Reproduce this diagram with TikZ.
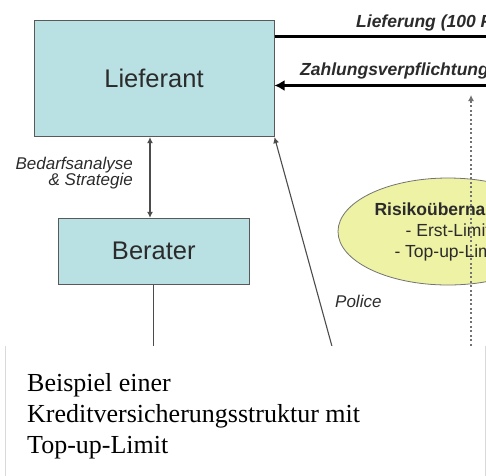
\documentclass[tikz,border=0pt]{standalone}
\usepackage{fontspec}
\setmainfont{Liberation Sans}
\newfontfamily\captionfont{Liberation Serif}
\usepackage{tikz}
\usetikzlibrary{shapes.geometric, arrows.meta}
\definecolor{boxcyan}{HTML}{B9E0E2}
\definecolor{ellyellow}{HTML}{EEF2A4}
\definecolor{inkgray}{HTML}{2B2B2B}
\tikzstyle{party} = [rectangle, draw=black!65, line width=1pt, fill=boxcyan, text=inkgray, inner sep=0pt, font=\fontsize{25.5}{30}\selectfont]
\tikzstyle{risk} = [ellipse, draw=black!55, line width=0.8pt, fill=ellyellow, minimum width=220pt, minimum height=107pt, inner sep=0pt, align=center, text=inkgray, font=\fontsize{17.5}{21}\selectfont]
\tikzstyle{flowlabel} = [inner sep=0pt, text=inkgray, font=\fontsize{17.5}{18}\selectfont\bfseries\itshape]
\tikzstyle{sidelabel} = [inner sep=0pt, text=inkgray, font=\fontsize{17}{15}\selectfont\itshape]
\tikzstyle{flow} = [line width=3pt, draw=black, -{Latex[length=10pt,width=11pt]}]
\tikzstyle{link} = [line width=1.1pt, draw=black!70]
\tikzstyle{arrow} = [link, -{Latex[length=6pt,width=6pt]}]
\tikzstyle{dotarrow} = [line width=1.1pt, draw=black!55, dash pattern=on 2pt off 2.5pt, -{Latex[length=6pt,width=6pt]}]

\begin{document}
\begin{tikzpicture}[x=1pt, y=-1pt]
\useasboundingbox (0,0) rectangle (486,475);
\clip (0,0) rectangle (486,475);
% parties
\node (lieferant) [party, minimum width=240pt, minimum height=116.5pt] at (154,78.4) {Lieferant};
\node (berater) [party, minimum width=191pt, minimum height=66pt] at (153.8,251.3) {Berater};
\node (risiko) [risk] at (448,231.5) {\textbf{Risikoübernahme}\\- Erst-Limit\\- Top-up-Limit};
% free ends
\coordinate (lr) at (492,36);
\coordinate (zr) at (492,85.5);
\coordinate (pbot) at (333,350);
\coordinate (dbot) at (471,350);
\coordinate (dtop) at (471,95);
\coordinate (bbot) at (153.8,350);
% connectors
\draw [link, line width=3pt, draw=black] (lr -| lieferant.east) -- (lr);
\node (lieferung) [flowlabel, anchor=base west] at (356,27) {Lieferung (100 P};
\draw [flow] (zr) -- (zr -| lieferant.east);
\node (zahlung) [flowlabel, anchor=base west] at (300,75) {Zahlungsverpflichtung};
\draw [dotarrow] (dbot) -- (dtop);
\draw [arrow, {Latex[length=6pt,width=6pt]}-{Latex[length=6pt,width=6pt]}] ([xshift=-4pt]lieferant.south) -- ([xshift=-4pt]lieferant.south |- berater.north);
\node (bedarf) [sidelabel, anchor=north east, align=right] at (133,156.5) {Bedarfsanalyse\\\& Strategie};
\draw [link] (berater.south) -- (bbot);
\draw [arrow] (pbot) -- (lieferant.south east);
\node (police) [sidelabel, anchor=base west] at (335,307) {Police};
% caption
\node (capbox) [fill=white, inner sep=0pt, minimum width=479.5pt, minimum height=140pt, anchor=north west] at (5.5,346) {};
\draw [line width=1.5pt, draw=black!15] (capbox.north west) -- (capbox.south west);
\draw [line width=1.5pt, draw=black!15] (capbox.north east) -- (capbox.south east);
\node (captext) [inner sep=0pt, anchor=north west, align=left, font=\captionfont\fontsize{26}{31}\selectfont] at (27,373) {Beispiel einer\\Kreditversicherungsstruktur mit\\Top-up-Limit};
\end{tikzpicture}
\end{document}
